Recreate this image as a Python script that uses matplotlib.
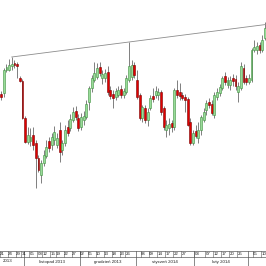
import matplotlib
matplotlib.use('Agg')
import matplotlib.pyplot as plt
import numpy as np
import pandas as pd

# ---- data (price units; no price scale is shown) ----
dates = pd.bdate_range('2013-10-21', '2014-03-11')
dates = dates[~dates.isin(pd.to_datetime(['2013-12-25', '2014-01-01']))]

# pixel-y readings (smaller = higher price)
open_y = [94, 93, 70, 70, 66, 63, 64, 78, 81, 118,
          142, 141, 135, 143, 158, 175, 163, 156, 141, 145,
          140, 145, 130, 150, 143, 127, 128, 120, 111, 118,
          127, 120, 117, 102, 88, 80, 77, 67, 78, 78,
          72, 90, 94, 97, 95, 89, 95, 92, 80, 77,
          65, 80, 95, 118, 108, 120, 108, 96, 95, 95,
          92, 108, 130, 128, 123, 127, 90, 92, 95, 97,
          99, 122, 143, 131, 138, 130, 120, 110, 102, 104,
          115, 97, 93, 88, 76, 85, 85, 78, 79, 92,
          88, 68, 78, 82, 80, 50, 50, 45, 50, 38]
close_y = [97, 70, 67, 65, 64, 65, 66, 81, 118, 142,
           135, 137, 145, 158, 170, 163, 155, 147, 148, 137,
           132, 138, 152, 143, 130, 133, 119, 112, 117, 128,
           117, 116, 104, 88, 78, 73, 68, 73, 74, 73,
           92, 96, 98, 91, 90, 95, 91, 78, 66, 65,
           75, 97, 118, 107, 120, 112, 98, 99, 91, 92,
           112, 127, 125, 124, 127, 90, 95, 96, 98, 100,
           125, 143, 133, 136, 130, 117, 112, 103, 105, 113,
           95, 92, 87, 78, 82, 80, 80, 81, 86, 86,
           66, 82, 82, 78, 50, 47, 46, 50, 40, 28]
high_y = [91, 68, 64, 59, 57, 60, 62, 76, 79, 116,
          127, 128, 127, 140, 155, 160, 150, 140, 137, 133,
          126, 133, 122, 140, 125, 120, 114, 107, 106, 114,
          113, 111, 100, 86, 75, 62, 63, 62, 70, 69,
          66, 86, 90, 88, 86, 85, 88, 75, 42, 60,
          62, 70, 93, 105, 105, 108, 95, 88, 86, 88,
          90, 106, 120, 118, 120, 88, 80, 83, 92, 94,
          97, 118, 130, 125, 122, 115, 108, 100, 98, 100,
          92, 88, 84, 76, 72, 77, 76, 74, 75, 82,
          62, 64, 75, 74, 48, 40, 42, 42, 35, 22]
low_y = [100, 97, 72, 71, 70, 68, 78, 82, 119, 143,
         144, 146, 150, 188, 172, 183, 166, 158, 152, 150,
         145, 148, 162, 155, 146, 136, 131, 122, 120, 131,
         130, 125, 119, 110, 92, 82, 79, 76, 84, 82,
         95, 99, 108, 100, 97, 98, 98, 94, 82, 80,
         78, 99, 120, 122, 123, 126, 110, 102, 98, 100,
         115, 130, 137, 135, 132, 130, 98, 100, 100, 112,
         126, 145, 145, 138, 143, 135, 122, 115, 108, 115,
         118, 100, 96, 90, 85, 88, 90, 86, 90, 102,
         90, 84, 85, 84, 82, 52, 54, 53, 52, 40]

BASE = 266
opens = [BASE - v for v in open_y]
closes = [BASE - v for v in close_y]
highs = [BASE - v for v in high_y]
lows = [BASE - v for v in low_y]

month_names = {10: 'październik', 11: 'listopad', 12: 'grudzień',
               1: 'styczeń', 2: 'luty', 3: 'marzec'}
day_labels = ['2013-10-21', '2013-10-24', '2013-10-29', '2013-10-31',
              '2013-11-05', '2013-11-08', '2013-11-12', '2013-11-15',
              '2013-11-19', '2013-11-22', '2013-11-27',
              '2013-12-02', '2013-12-05', '2013-12-10', '2013-12-13',
              '2013-12-18', '2013-12-23', '2013-12-26',
              '2014-01-06', '2014-01-09', '2014-01-14', '2014-01-17',
              '2014-01-22', '2014-01-27',
              '2014-02-03', '2014-02-07', '2014-02-12', '2014-02-17',
              '2014-02-20', '2014-02-25',
              '2014-03-05', '2014-03-10']

# ---- figure ----
W = H = 266
fig = plt.figure(figsize=(W / 100, H / 100), dpi=100)
axis_h = 16
ax = fig.add_axes([0, axis_h / H, 1, 1 - axis_h / H])
n = len(dates)
xs = np.arange(n)
xmin, xmax = -0.4, n - 0.6
ax.set_xlim(xmin, xmax)
ax.set_ylim(BASE - (H - axis_h), BASE)
ax.axis('off')

green_face, green_edge = '#98dc98', '#3f8f3f'
red_face, red_edge = '#e00000', '#7a0000'
wick_c = '#7f7f7f'
bw = 0.66
for i in range(n):
    o, c, h, l = opens[i], closes[i], highs[i], lows[i]
    ax.vlines(xs[i], l, h, color=wick_c, lw=0.7, zorder=1)
    up = c >= o
    fc, ec = (green_face, green_edge) if up else (red_face, red_edge)
    bot, top = min(o, c), max(o, c)
    ax.add_patch(plt.Rectangle((xs[i] - bw / 2, bot), bw, max(top - bot, 0.6),
                               facecolor=fc, edgecolor=ec, lw=0.4, zorder=2))

# resistance line through two highs
i1, i2 = 4, 48
slope = (highs[i2] - highs[i1]) / (i2 - i1)
ax.plot([i1, xmax], [highs[i1], highs[i1] + slope * (xmax - i1)],
        color='#8c8c8c', lw=0.6, zorder=3)

# ---- date strip ----
ax2 = fig.add_axes([0, 0, 1, axis_h / H])
ax2.set_xlim(xmin, xmax)
ax2.set_ylim(0, axis_h)
ax2.axis('off')
lc = '#5a5a5a'
tc = '#222222'
top_y = axis_h - 0.5
row = 9.0
fnt = dict(family=['Liberation Sans', 'DejaVu Sans'], fontsize=3.2, color=tc)
ax2.plot([xmin, xmax], [top_y, top_y], color=lc, lw=0.5)
ax2.plot([xmin, xmax], [row, row], color=lc, lw=0.5)
dl = pd.to_datetime(day_labels)
for d in dl:
    i = int(np.where(dates == d)[0][0])
    ax2.plot([i - 0.5, i - 0.5], [row, top_y], color=lc, lw=0.4)
    ax2.text(i + 0.55, (row + top_y) / 2, d.strftime('%d'),
             ha='center', va='center', **fnt)
months = pd.Series(xs, index=dates).groupby([dates.year, dates.month])
for (yr, mo), grp in months:
    a, b = grp.values[0], grp.values[-1]
    if a > 0:
        ax2.plot([a - 0.5, a - 0.5], [0, top_y], color=lc, lw=0.5)
    width = b - a + 1
    if width > 15:
        ax2.text((a + b) / 2, row / 2, f'{month_names[mo]} {yr}',
                 ha='center', va='center', **fnt)
    elif a == 0:
        ax2.text(a + 0.6, row / 2, str(yr), ha='left', va='center', **fnt)

fig.savefig('out.png', dpi=100)
